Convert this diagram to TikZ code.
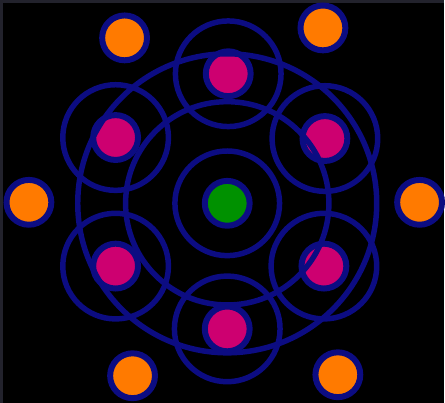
\documentclass[tikz,border=0pt]{standalone}
\usetikzlibrary{positioning, calc}
\definecolor{RingNavy}{RGB}{12,12,130}
\definecolor{CoreGreen}{RGB}{0,145,0}
\definecolor{ShellMagenta}{RGB}{205,0,112}
\definecolor{OuterOrange}{RGB}{255,122,0}
\definecolor{FrameGray}{RGB}{34,34,44}
\begin{document}
\begin{tikzpicture}[
    x=1pt, y=-1pt,
    dot/.style     = {circle, draw=RingNavy, line width=6pt,
                      minimum size=45pt, inner sep=0pt},
    core/.style    = {dot, fill=CoreGreen},
    shell/.style   = {dot, fill=ShellMagenta},
    outer/.style   = {dot, fill=OuterOrange},
    orbit/.style   = {circle, draw=RingNavy, line width=5.5pt, inner sep=0pt},
  ]

  % background
  \fill[FrameGray] (0,0) rectangle (445,404);
  \fill[black] (3,3) rectangle (445,404);

  % dots
  \node[core] (ctr) at (228,204) {};
  \foreach \name/\px/\py in {top/229/74, ul/116/138, ur/326/139,
                             ll/116/267, lr/325/267, bot/228/330}
    \node[shell] (\name) at (\px,\py) {};
  \foreach \name/\px/\py in {otl/125/38, otr/324/28, oleft/29/203,
                             oright/421/203, obl/133/377, obr/339/376}
    \node[outer] (\name) at (\px,\py) {};

  % rings around the center
  \node[orbit, minimum size=105pt] (inner) at (ctr) {};
  \node[orbit, minimum size=204pt] (middle) at (ctr) {};
  \node[orbit, minimum size=300pt] (big) at (ctr) {};

  % rings around the shell dots
  \foreach \name in {top, ul, ur, ll, lr, bot}
    \node[orbit, minimum size=106pt] (\name-ring) at (\name) {};

\end{tikzpicture}
\end{document}
